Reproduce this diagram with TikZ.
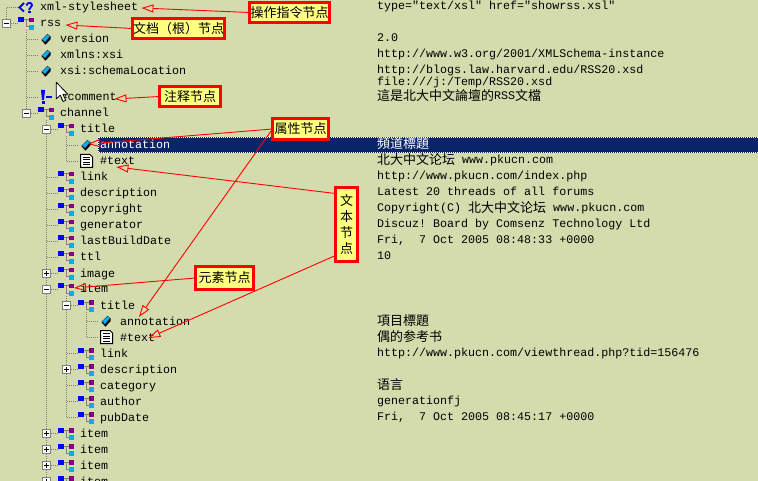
\documentclass[tikz,border=0pt]{standalone}
\usepackage{fontspec}
\setmonofont{Liberation Mono}
\newfontfamily\cjkfont{Noto Sans CJK SC}
\usetikzlibrary{arrows.meta}
\newcommand{\zh}[1]{\raisebox{-1pt}{\fontsize{13}{16}\cjkfont #1}}
\definecolor{panelbg}{HTML}{D4DCAD}
\definecolor{selblue}{HTML}{0A246A}
\definecolor{notefill}{HTML}{FFFF80}
\definecolor{iconpurple}{HTML}{800080}
\tikzset{
  rowlabel/.style={inner sep=0,anchor=base west,font=\fontsize{11.67}{14}\ttfamily},
  valuetext/.style={rowlabel,text=black},
  treeline/.style={draw=gray,line width=.8pt,dash pattern=on 1pt off 1pt},
  expbox/.style={draw=gray,fill=white,line width=1pt,minimum size=8pt,inner sep=0},
  expminus/.style={expbox,path picture={\draw[black,line width=1pt] (path picture bounding box.center) ++(-2.8pt,0) -- ++(5.6pt,0);}},
  expplus/.style={expbox,path picture={\draw[black,line width=1pt] (path picture bounding box.center) ++(-2.8pt,0) -- ++(5.6pt,0) (path picture bounding box.center) ++(0,-2.8pt) -- ++(0,5.6pt);}},
  callout/.style={draw=red,line width=3pt,fill=notefill,inner sep=0,outer sep=0,align=center,font=\fontsize{13}{16}\cjkfont},
  redarrow/.style={draw=red,line width=.9pt,-{Triangle[open,length=12pt,width=8pt]}},
  elemicon/.pic={
    \draw[gray,line width=1pt] (5,-3) -- (11,-3) (8,-3) |- (11,4);
    \fill[blue] (0,-5.5) rectangle (5.5,-.5);
    \fill[iconpurple] (10.5,-5) rectangle (15.5,-.5);
    \fill[cyan] (10.5,2) rectangle (15.5,7);
    \coordinate (-w) at (-1,0);
  },
  attricon/.pic={
    \fill[black] (1.5,-5) -- (4.7,-2.5) -- (4.7,0) -- (-.5,5.7) -- (-4.3,1.5) -- (-4.3,.5) -- cycle;
    \fill[cyan] (1.5,-4.6) -- (3.8,-2.7) -- (-1,3) -- (-3.8,.5) -- cycle;
    \coordinate (-w) at (-8,0);
  },
  texticon/.pic={
    \draw[black,fill=white,line width=1pt] (-6,-6.5) -- (3.5,-6.5) -- (6,-4) -- (6,6.5) -- (-6,6.5) -- cycle;
    \foreach \dy in {-3.5,-1,1.5,4} {\draw[black,line width=1pt] (-3.5,\dy) -- (3.5,\dy);}
    \coordinate (-w) at (-8.5,0);
  },
  pinode/.pic={
    \draw[blue,line width=1.8pt] (24,3) -- (19.5,7.5) -- (24,11.5);
    \draw[blue,line width=1.8pt] (26.5,5.5) .. controls (27,2) and (32.5,2) .. (32,5.5) .. controls (31.5,8) and (29,7.5) .. (29,10);
    \fill[blue] (28,11.5) rectangle (30.5,13.5);
    \coordinate (-w) at (17,7);
  },
  commenticon/.pic={
    \fill[blue] (41,90) -- (45,90) -- (44,100) -- (42,100) -- cycle;
    \fill[blue] (41.5,101.5) rectangle (44.5,104.5);
    \fill[blue] (46,96) rectangle (52,98.5);
    \coordinate (-w) at (38,97);
  },
}
\begin{document}
\begin{tikzpicture}[x=1pt,y=-1pt]
\useasboundingbox (0,0) rectangle (758,481);
\clip (0,0) rectangle (758,481);
\fill[panelbg] (0,0) rectangle (758,481);
\draw[selblue,fill=selblue] (98,137.5) rectangle (758,152.5);
\draw[white,line width=.7pt,dash pattern=on 1pt off 1pt] (98,137.5) rectangle (758,152.5);
% tree spines
\coordinate (sproot) at (6.5,23);
\coordinate (sprss) at (26.5,30);
\coordinate (spchannel) at (46.5,120);
\coordinate (sptitle) at (66.5,136);
\coordinate (spitem) at (66.5,296);
\coordinate (sptitleb) at (86.5,312);
% element rows
\foreach \name/\xx/\yy/\txt/\up in {rss/40/23/rss/root,channel/60/113/channel/rss,title/80/129/title/channel,
    link/80/177/link/channel,description/80/193/description/channel,copyright/80/209/copyright/channel,
    generator/80/225/generator/channel,lastbuild/80/241/lastBuildDate/channel,ttl/80/257/ttl/channel,
    image/80/273/image/channel,item/80/289/item/channel,titleb/100/305/title/item,linkb/100/353/link/item,
    descb/100/369/description/item,category/100/385/category/item,author/100/401/author/item,
    pubdate/100/417/pubDate/item,itemc/80/433/item/channel,itemd/80/449/item/channel,
    iteme/80/465/item/channel,itemf/80/481/item/channel} {
  \pic (ic\name) at (\xx-22,\yy) {elemicon};
  \draw[treeline] (ic\name-w -| sp\up) -- (ic\name-w);
  \node[rowlabel] (\name) at (\xx,\yy+4) {\txt};
}
% attribute rows
\foreach \name/\xx/\yy/\txt/\up in {version/60/39/version/rss,xmlnsxsi/60/55/xmlns:xsi/rss,
    schemaloc/60/71/xsi:schemaLocation/rss,annotb/120/321/annotation/titleb} {
  \pic (ic\name) at (\xx-14,\yy) {attricon};
  \draw[treeline] (ic\name-w -| sp\up) -- (ic\name-w);
  \node[rowlabel] (\name) at (\xx,\yy+4) {\txt};
}
\pic (icannota) at (86,145) {attricon};
\draw[treeline] (icannota-w -| sptitle) -- (icannota-w);
\node[rowlabel,text=white] (annota) at (100,149) {annotation};
% text rows
\pic (ictexta) at (86.5,161) {texticon};
\draw[treeline] (ictexta-w -| sptitle) -- (ictexta-w);
\node[rowlabel] (texta) at (100,165) {\#text};
\pic (ictextb) at (106.5,337) {texticon};
\draw[treeline] (ictextb-w -| sptitleb) -- (ictextb-w);
\node[rowlabel] (textb) at (120,341) {\#text};
% first row and comment
\pic (icpi) at (0,0) {pinode};
\draw[treeline] (sproot) |- (icpi-w);
\node[rowlabel] (stylesheet) at (40,11) {xml-stylesheet};
\pic (iccomment) at (0,0) {commenticon};
\draw[treeline] (iccomment-w -| sprss) -- (iccomment-w);
\node[rowlabel] (comment) at (60.5,101) {\#comment};
% spines
\draw[treeline] (sprss) -- (icchannel-w -| sprss);
\draw[treeline] (spchannel) -- (icitemf-w -| spchannel);
\draw[treeline] (sptitle) -- (ictexta-w -| sptitle);
\draw[treeline] (spitem) -- (icpubdate-w -| spitem);
\draw[treeline] (sptitleb) -- (ictextb-w -| sptitleb);
% expanders
\foreach \name/\xx/\yy in {rss/6.5/23,channel/26.5/113,title/46.5/129,item/46.5/289,titleb/66.5/305}
  \node[expminus] (exp\name) at (\xx,\yy.5) {};
\foreach \name/\xx/\yy in {image/46.5/273,descb/66.5/369,itemc/46.5/433,itemd/46.5/449,iteme/46.5/465,itemf/46.5/481}
  \node[expplus] (exp\name) at (\xx,\yy.5) {};
% values
\foreach \yy/\val in {9.5/{type="text/xsl" href="showrss.xsl"},42/{2.0},58/{http://www.w3.org/2001/XMLSchema-instance},
    74/{http://blogs.law.harvard.edu/RSS20.xsd},86/{file:///j:/Temp/RSS20.xsd},
    100/{\zh{這是北大中文論壇的}RSS\zh{文檔}},164/{\zh{北大中文论坛} www.pkucn.com},
    180/{http://www.pkucn.com/index.php},196/{Latest 20 threads of all forums},
    212/{Copyright(C) \zh{北大中文论坛} www.pkucn.com},228/{Discuz! Board by Comsenz Technology Ltd},
    244/{Fri,\ \ 7 Oct 2005 08:48:33 +0000},260/{10},324/{\zh{項目標題}},340/{\zh{偶的参考书}},
    356/{http://www.pkucn.com/viewthread.php?tid=156476},388/{\zh{语言}},404/{generationfj},
    420/{Fri,\ \ 7 Oct 2005 08:45:17 +0000}}
  \node[valuetext] (val\yy) at (377,\yy) {\val};
\node[valuetext,text=white] (valsel) at (377,148) {\zh{頻道標題}};
% cursor
\draw[black,fill=white,line width=.8pt,line join=round] (56.3,82.3) -- ++(0,16.5) -- ++(4,-3.6) -- ++(2.8,6.3) -- ++(2.6,-1.2) -- ++(-2.8,-6) -- ++(5,0) -- cycle;
% notes
\node[callout,minimum width=80pt,minimum height=20pt] (pinote) at (289.5,12.5) {操作指令节点};
\node[callout,minimum width=92pt,minimum height=20pt] (rootnote) at (178.5,28.5) {文档（根）节点};
\node[callout,minimum width=61pt,minimum height=20pt] (commentnote) at (190,96.5) {注释节点};
\node[callout,minimum width=56pt,minimum height=21pt] (attrnote) at (300.5,129) {属性节点};
\node[callout,minimum width=22pt,minimum height=74pt] (textnote) at (346.5,224.5) {文\\本\\节\\点};
\node[callout,minimum width=58pt,minimum height=23pt] (elemnote) at (224.5,278) {元素节点};
% red arrows
\draw[redarrow] (pinote.west) -- ([xshift=3pt,yshift=3pt]stylesheet.base east);
\draw[redarrow] (rootnote.west) -- ([xshift=4pt,yshift=2pt]rss.base east);
\draw[redarrow] (commentnote.west) -- ([xshift=-2.5pt,yshift=2pt]comment.base east);
\draw[redarrow] (attrnote.west) -- ([xshift=-12pt,yshift=5pt]annota.base west);
\draw[redarrow] (attrnote.west) -- ([xshift=19pt,yshift=8pt]annotb.base west);
\draw[redarrow] ([yshift=-6pt]textnote.north west) -- ([xshift=-19pt,yshift=-2pt]texta.base east);
\draw[redarrow] ([yshift=6pt]textnote.south west) -- ([xshift=-7pt,yshift=3pt]textb.base east);
\draw[redarrow] (elemnote.west) -- ([xshift=-6pt,yshift=5pt]item.base west);
\end{tikzpicture}
\end{document}
